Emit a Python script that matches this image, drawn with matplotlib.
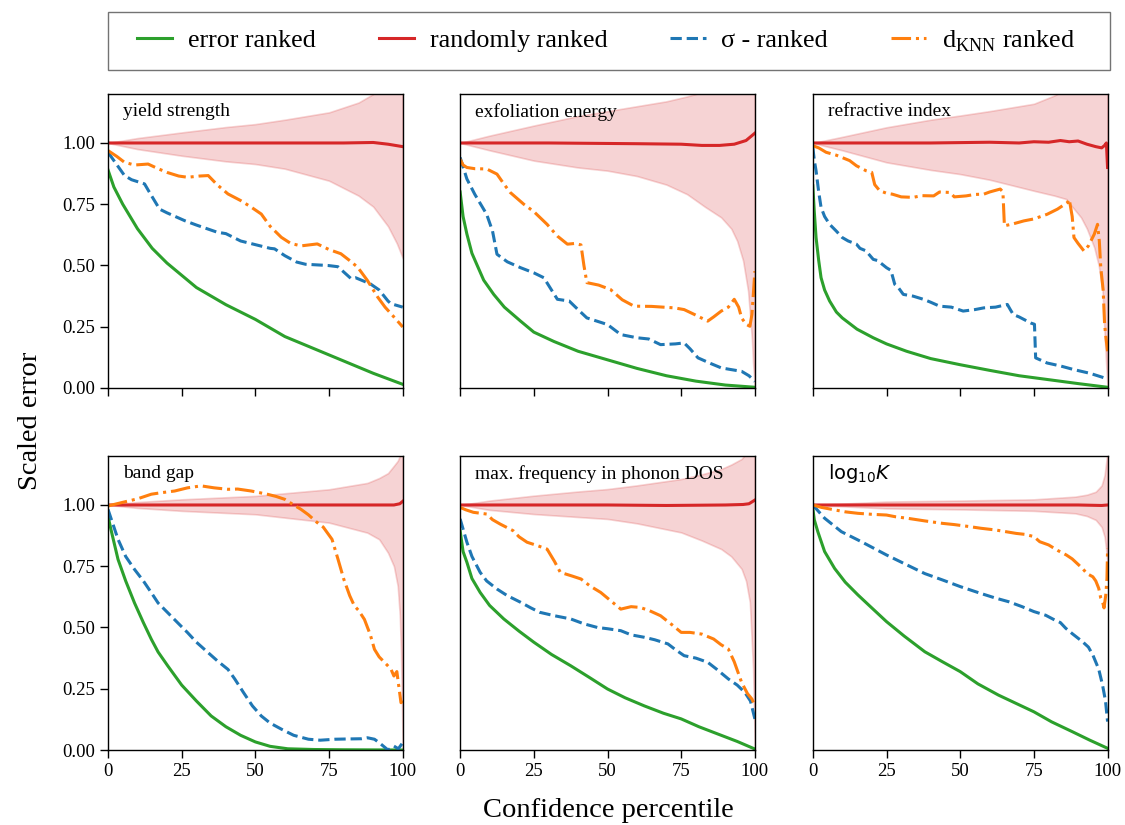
import numpy as np
import matplotlib
matplotlib.use("Agg")
import matplotlib.pyplot as plt
from matplotlib.lines import Line2D
from matplotlib.patches import Rectangle

plt.rcParams['font.family'] = ['Liberation Serif', 'DejaVu Sans']
plt.rcParams['mathtext.fontset'] = 'dejavusans'

# ---- yield strength ----
ys_err_x = [0, 2, 5, 10, 15, 20, 25, 30, 40, 50, 60, 70, 75, 80, 90, 100]
ys_err_y = [0.89, 0.82, 0.75, 0.65, 0.57, 0.51, 0.46, 0.41, 0.34, 0.28, 0.21, 0.16, 0.135, 0.11, 0.06, 0.015]
ys_rand_x = [0, 20, 40, 60, 80, 90, 95, 100]
ys_rand_y = [1.0, 1.0, 1.0, 1.0, 1.0, 1.002, 0.995, 0.985]
ys_band_x = [0, 10, 25, 40, 50, 60, 75, 85, 90, 95, 98, 100]
ys_band_hi = [1.0, 1.02, 1.043, 1.065, 1.077, 1.095, 1.125, 1.165, 1.2, 1.26, 1.32, 1.4]
ys_band_lo = [1.0, 0.975, 0.948, 0.925, 0.914, 0.895, 0.846, 0.785, 0.74, 0.66, 0.59, 0.53]
ys_sig_x = [0, 5.6, 8, 12.4, 14, 17.5, 20, 26, 30, 37, 40, 45, 50, 55, 56.5, 60, 64, 67, 74.6, 78, 82.5, 84, 89, 92, 95, 96, 100]
ys_sig_y = [0.962, 0.867, 0.85, 0.833, 0.80, 0.73, 0.715, 0.683, 0.665, 0.636, 0.63, 0.60, 0.585, 0.57, 0.568, 0.54, 0.514, 0.505, 0.50, 0.495, 0.446, 0.45, 0.425, 0.40, 0.355, 0.344, 0.33]
ys_knn_x = [0, 3, 5.6, 9, 13.6, 17, 20, 24, 27, 31, 34, 37, 40.7, 45, 48.6, 52, 55, 58.8, 62, 65.5, 71, 75, 79, 82, 84.7, 88, 91.5, 94, 97, 100]
ys_knn_y = [0.969, 0.945, 0.921, 0.91, 0.914, 0.895, 0.88, 0.865, 0.86, 0.865, 0.867, 0.83, 0.792, 0.765, 0.738, 0.71, 0.66, 0.615, 0.59, 0.58, 0.588, 0.565, 0.548, 0.52, 0.493, 0.439, 0.371, 0.33, 0.29, 0.249]

# ---- exfoliation energy ----
ex_err_x = [0, 1, 2.3, 4, 5.7, 8, 11.4, 15, 20.5, 25, 31.8, 40, 50, 60, 70, 80, 90, 100]
ex_err_y = [0.80, 0.70, 0.628, 0.55, 0.503, 0.44, 0.382, 0.33, 0.273, 0.228, 0.19, 0.15, 0.115, 0.08, 0.05, 0.028, 0.012, 0.003]
ex_rand_x = [0, 30, 60, 75, 82, 88, 93, 97, 100]
ex_rand_y = [1.0, 1.0, 0.997, 0.995, 0.99, 0.99, 0.995, 1.01, 1.04]
ex_band_x = [0, 10, 25, 40, 50, 60, 70, 77, 83, 88.6, 92, 94, 96, 97.7, 99, 99.4, 100]
ex_band_hi = [1.0, 1.03, 1.071, 1.11, 1.13, 1.15, 1.17, 1.19, 1.21, 1.25, 1.3, 1.33, 1.38, 1.45, 1.6, 1.7, 2.0]
ex_band_lo = [1.0, 0.97, 0.928, 0.90, 0.887, 0.865, 0.83, 0.791, 0.74, 0.696, 0.65, 0.60, 0.52, 0.396, 0.2, 0.1, 0.0]
ex_sig_x = [0, 2.3, 5, 9, 11, 12.5, 16, 20.5, 25, 28.4, 31, 33, 37, 40, 43, 50, 54.5, 60, 64, 68, 73, 76, 78, 80.7, 85, 88.6, 92, 95.5, 98, 100]
ex_sig_y = [0.941, 0.853, 0.79, 0.709, 0.64, 0.546, 0.515, 0.491, 0.47, 0.45, 0.40, 0.362, 0.355, 0.32, 0.286, 0.259, 0.218, 0.205, 0.20, 0.177, 0.18, 0.184, 0.16, 0.123, 0.10, 0.082, 0.075, 0.068, 0.05, 0.027]
ex_knn_x = [0, 1, 2.3, 5, 9, 12.5, 15, 17, 21.6, 25, 29.5, 33, 36.4, 39, 41, 42, 43, 47, 51, 55, 59, 65, 72.7, 76, 79.5, 84, 86, 88.6, 91, 93, 94.5, 95.5, 97, 98.3, 99, 99.4, 100]
ex_knn_y = [0.934, 0.91, 0.90, 0.895, 0.894, 0.873, 0.83, 0.798, 0.75, 0.72, 0.668, 0.62, 0.587, 0.59, 0.584, 0.5, 0.43, 0.42, 0.402, 0.36, 0.334, 0.333, 0.327, 0.32, 0.30, 0.273, 0.29, 0.314, 0.33, 0.362, 0.33, 0.286, 0.26, 0.252, 0.3, 0.368, 0.477]

# ---- refractive index ----
ri_err_x = [0, 0.5, 1.1, 2, 2.8, 4, 5.7, 8, 10, 15, 20.5, 25, 31.8, 40, 50, 60, 70, 80, 90, 100]
ri_err_y = [0.825, 0.72, 0.614, 0.52, 0.45, 0.40, 0.355, 0.31, 0.286, 0.24, 0.205, 0.18, 0.15, 0.12, 0.095, 0.072, 0.05, 0.034, 0.018, 0.003]
ri_rand_x = [0, 20, 40, 60, 70, 75, 80, 84, 87, 90, 93, 96, 98, 99, 99.6, 100]
ri_rand_y = [1.0, 1.0, 1.0, 1.003, 1.0, 1.005, 1.003, 1.01, 1.005, 1.008, 0.995, 0.985, 0.98, 0.99, 1.0, 0.9]
ri_band_x = [0, 10, 25, 40, 50, 60, 75, 82, 86, 88, 91, 93, 95.5, 97, 98.3, 99.4, 100]
ri_band_hi = [1.0, 1.025, 1.064, 1.095, 1.112, 1.13, 1.16, 1.194, 1.22, 1.24, 1.28, 1.32, 1.4, 1.5, 1.6, 1.8, 2.0]
ri_band_lo = [1.0, 0.97, 0.921, 0.89, 0.873, 0.85, 0.805, 0.785, 0.771, 0.74, 0.696, 0.65, 0.573, 0.5, 0.396, 0.123, 0.0]
ri_sig_x = [0, 0.5, 1.1, 2, 2.8, 4, 5.7, 8, 10, 12, 14.8, 16, 18, 20.5, 22, 25, 26.5, 27.8, 29, 30.7, 34, 37.5, 40, 43, 47, 51, 55, 58, 62, 66, 67, 68, 70, 72.7, 74, 75.2, 75.6, 79.5, 84, 88.6, 94, 99]
ri_sig_y = [0.982, 0.93, 0.887, 0.80, 0.737, 0.70, 0.668, 0.64, 0.614, 0.60, 0.587, 0.57, 0.56, 0.525, 0.52, 0.491, 0.48, 0.423, 0.41, 0.382, 0.375, 0.362, 0.35, 0.334, 0.33, 0.314, 0.32, 0.327, 0.33, 0.341, 0.32, 0.30, 0.29, 0.273, 0.265, 0.26, 0.123, 0.102, 0.09, 0.075, 0.06, 0.041]
ri_knn_x = [0, 2, 4.5, 8, 12.5, 14.8, 18, 20, 21, 22.7, 25, 27, 30, 34, 37, 41, 43, 46.6, 48, 52, 55, 58, 60, 63.6, 64.5, 65, 68, 71.6, 75, 79.5, 83, 86.4, 87, 88, 88.6, 90, 92, 93.5, 95.5, 96.6, 97.2, 97.7, 98.5, 99, 99.5, 100]
ri_knn_y = [0.989, 0.98, 0.962, 0.95, 0.928, 0.907, 0.887, 0.88, 0.83, 0.805, 0.795, 0.791, 0.78, 0.778, 0.785, 0.784, 0.80, 0.798, 0.78, 0.784, 0.79, 0.791, 0.80, 0.812, 0.80, 0.662, 0.67, 0.682, 0.69, 0.709, 0.73, 0.757, 0.77, 0.70, 0.614, 0.59, 0.559, 0.58, 0.628, 0.668, 0.60, 0.491, 0.40, 0.259, 0.2, 0.15]

# ---- band gap ----
bg_err_x = [0, 1, 3.4, 6, 9, 12, 14.7, 17, 20.3, 25, 30, 35, 40, 45, 50, 55, 61, 70, 80, 100]
bg_err_y = [0.955, 0.90, 0.778, 0.69, 0.60, 0.52, 0.452, 0.40, 0.343, 0.265, 0.20, 0.139, 0.095, 0.06, 0.033, 0.015, 0.005, 0.002, 0.001, 0.0]
bg_rand_x = [0, 50, 90, 97, 99, 100]
bg_rand_y = [1.0, 1.0, 1.0, 1.0, 1.005, 1.015]
bg_band_x = [0, 10, 25, 50, 75, 88, 92, 95, 97, 98.3, 99, 99.4, 100]
bg_band_hi = [1.0, 1.012, 1.023, 1.037, 1.064, 1.09, 1.11, 1.13, 1.16, 1.18, 1.2, 1.25, 1.4]
bg_band_lo = [1.0, 0.988, 0.976, 0.962, 0.928, 0.887, 0.86, 0.805, 0.75, 0.669, 0.55, 0.40, 0.0]
bg_sig_x = [0, 3.4, 6, 9, 12, 14.7, 17, 20.3, 24, 27, 30, 34, 37, 40.7, 43, 46, 49, 52, 55, 59, 63, 68, 72, 77, 81, 86, 88, 90.4, 92, 94, 95, 97, 98.5, 100]
bg_sig_y = [0.982, 0.86, 0.79, 0.737, 0.69, 0.642, 0.60, 0.56, 0.515, 0.479, 0.44, 0.397, 0.365, 0.329, 0.29, 0.234, 0.18, 0.139, 0.11, 0.084, 0.06, 0.044, 0.04, 0.044, 0.045, 0.046, 0.05, 0.044, 0.03, 0.01, 0.0, 0.016, 0.005, 0.03]
bg_knn_x = [0, 3, 6.8, 10, 14.7, 18, 22.6, 27, 31.6, 36, 40.7, 44, 48.6, 54, 57, 60, 63, 65.5, 68, 71, 73, 76, 78, 80, 82, 83.6, 85, 87, 89, 90.4, 92, 95, 96, 97, 98, 99.4, 100]
bg_knn_y = [0.996, 1.005, 1.016, 1.025, 1.044, 1.05, 1.057, 1.07, 1.078, 1.07, 1.064, 1.065, 1.057, 1.044, 1.035, 1.023, 1.0, 0.982, 0.96, 0.928, 0.91, 0.86, 0.78, 0.697, 0.63, 0.588, 0.57, 0.533, 0.47, 0.411, 0.38, 0.343, 0.33, 0.302, 0.32, 0.193, 0.2]

# ---- max. frequency in phonon DOS ----
ph_err_x = [0, 1, 2.3, 4, 6.8, 10, 14.8, 20, 25, 31, 37.5, 44, 50, 56, 62.5, 69, 75, 81, 87.5, 94, 100]
ph_err_y = [0.895, 0.81, 0.766, 0.70, 0.643, 0.59, 0.535, 0.485, 0.44, 0.39, 0.344, 0.295, 0.249, 0.213, 0.18, 0.15, 0.127, 0.095, 0.065, 0.035, 0.004]
ph_rand_x = [0, 50, 70, 90, 96, 98, 100]
ph_rand_y = [1.0, 1.0, 0.998, 1.0, 1.002, 1.005, 1.02]
ph_band_x = [0, 10, 25, 40, 50, 60, 75, 82, 88.6, 92, 95.5, 97, 98.3, 99.4, 100]
ph_band_hi = [1.0, 1.018, 1.038, 1.055, 1.065, 1.08, 1.106, 1.125, 1.147, 1.165, 1.188, 1.21, 1.25, 1.35, 1.5]
ph_band_lo = [1.0, 0.98, 0.963, 0.951, 0.943, 0.925, 0.888, 0.855, 0.82, 0.79, 0.739, 0.69, 0.603, 0.33, 0.0]
ph_sig_x = [0, 2.3, 4, 6.8, 9, 12.5, 16, 20.5, 24, 27, 32, 37.5, 42, 46.6, 50, 54.5, 58, 62.5, 66, 70.5, 73, 76, 80, 84, 87, 91, 94, 96.6, 98.5, 100]
ph_sig_y = [0.943, 0.848, 0.79, 0.725, 0.69, 0.657, 0.63, 0.603, 0.58, 0.562, 0.548, 0.535, 0.515, 0.50, 0.495, 0.487, 0.47, 0.46, 0.45, 0.433, 0.41, 0.385, 0.375, 0.358, 0.33, 0.29, 0.265, 0.235, 0.2, 0.127]
ph_knn_x = [0, 2, 4.5, 9, 11, 13.6, 18, 20, 22.7, 26, 29.5, 32, 34, 38, 41, 44, 47.7, 51, 54.5, 58, 61, 64, 68, 72, 75, 78, 82, 86, 88.5, 91, 93, 95.5, 97.5, 99, 100]
ph_knn_y = [0.99, 0.98, 0.97, 0.963, 0.94, 0.922, 0.895, 0.87, 0.848, 0.835, 0.82, 0.77, 0.725, 0.71, 0.698, 0.67, 0.643, 0.61, 0.575, 0.585, 0.582, 0.57, 0.548, 0.51, 0.48, 0.48, 0.473, 0.453, 0.43, 0.412, 0.36, 0.276, 0.23, 0.208, 0.18]

# ---- log10 K ----
lk_err_x = [0, 0.5, 1.7, 4, 7.4, 11, 15.3, 20, 25, 31, 38, 44, 50, 56, 63, 69, 75, 81, 88, 94, 100]
lk_err_y = [0.986, 0.94, 0.891, 0.81, 0.741, 0.685, 0.633, 0.58, 0.524, 0.465, 0.401, 0.36, 0.32, 0.27, 0.224, 0.19, 0.156, 0.115, 0.075, 0.04, 0.007]
lk_rand_x = [0, 50, 90, 98, 100]
lk_rand_y = [1.0, 1.0, 1.0, 0.998, 1.0]
lk_band_x = [0, 25, 50, 75, 89, 93, 96, 98, 99, 99.5, 100]
lk_band_hi = [1.0, 1.014, 1.018, 1.023, 1.034, 1.042, 1.054, 1.08, 1.122, 1.17, 1.22]
lk_band_lo = [1.0, 0.986, 0.982, 0.976, 0.966, 0.955, 0.939, 0.91, 0.87, 0.82, 0.75]
lk_sig_x = [0, 4, 9.7, 16.5, 25, 32, 38, 44, 50, 57, 62, 66.5, 71, 75, 79, 82, 84, 85.8, 88, 91.5, 93.5, 95, 97, 98.3, 99.3, 100]
lk_sig_y = [1.0, 0.946, 0.891, 0.85, 0.796, 0.755, 0.72, 0.694, 0.667, 0.639, 0.62, 0.605, 0.585, 0.565, 0.55, 0.531, 0.52, 0.497, 0.475, 0.442, 0.42, 0.388, 0.33, 0.265, 0.2, 0.116]
lk_knn_x = [0, 3, 7.4, 11, 15.3, 20, 25, 28, 32, 38, 44, 48, 53, 57, 62, 66, 69, 72, 75, 77, 80, 83, 86, 88, 91.5, 93, 95, 96, 97, 97.7, 98.3, 98.8, 99.4, 99.8, 100]
lk_knn_y = [1.0, 0.99, 0.98, 0.972, 0.966, 0.962, 0.959, 0.952, 0.946, 0.935, 0.925, 0.92, 0.912, 0.905, 0.898, 0.89, 0.884, 0.88, 0.871, 0.85, 0.837, 0.815, 0.796, 0.78, 0.741, 0.72, 0.707, 0.69, 0.66, 0.62, 0.605, 0.58, 0.633, 0.7, 0.823]

titles = ['yield strength', 'exfoliation energy', 'refractive index',
          'band gap', 'max. frequency in phonon DOS', r'$\mathrm{log}_{10}K$']
panels = [
    (ys_err_x, ys_err_y, ys_rand_x, ys_rand_y, ys_band_x, ys_band_hi, ys_band_lo, ys_sig_x, ys_sig_y, ys_knn_x, ys_knn_y),
    (ex_err_x, ex_err_y, ex_rand_x, ex_rand_y, ex_band_x, ex_band_hi, ex_band_lo, ex_sig_x, ex_sig_y, ex_knn_x, ex_knn_y),
    (ri_err_x, ri_err_y, ri_rand_x, ri_rand_y, ri_band_x, ri_band_hi, ri_band_lo, ri_sig_x, ri_sig_y, ri_knn_x, ri_knn_y),
    (bg_err_x, bg_err_y, bg_rand_x, bg_rand_y, bg_band_x, bg_band_hi, bg_band_lo, bg_sig_x, bg_sig_y, bg_knn_x, bg_knn_y),
    (ph_err_x, ph_err_y, ph_rand_x, ph_rand_y, ph_band_x, ph_band_hi, ph_band_lo, ph_sig_x, ph_sig_y, ph_knn_x, ph_knn_y),
    (lk_err_x, lk_err_y, lk_rand_x, lk_rand_y, lk_band_x, lk_band_hi, lk_band_lo, lk_sig_x, lk_sig_y, lk_knn_x, lk_knn_y),
]
yticks = [0.0, 0.25, 0.5, 0.75, 1.0]
xticks = [0, 25, 50, 75, 100]

fig = plt.figure(figsize=(11.25, 8.25), dpi=100)
lefts = [0.096, 0.409, 0.7225]
bottoms = [0.5297, 0.0909]
w, h = 0.262, 0.3564
lw = 2.2

for i, (title, p) in enumerate(zip(titles, panels)):
    r, c = divmod(i, 3)
    ax = fig.add_axes([lefts[c], bottoms[r], w, h])
    ex, ey, rx, ry, bx, bhi, blo, sx, sy, kx, ky = p
    ax.fill_between(bx, blo, bhi, color='C3', alpha=0.2, lw=1.2)
    ax.plot(rx, ry, color='C3', lw=lw)
    ax.plot(ex, ey, color='C2', lw=lw)
    ax.plot(sx, sy, color='C0', lw=lw, ls='--')
    ax.plot(kx, ky, color='C1', lw=lw, ls='-.')
    ax.set_xlim(0, 100)
    ax.set_ylim(0, 1.2)
    ax.set_xticks(xticks)
    ax.set_yticks(yticks)
    ax.set_yticklabels([f'{t:.2f}' for t in yticks])
    ax.tick_params(labelsize=13.5, length=5.5, width=1.0)
    for s in ax.spines.values():
        s.set_linewidth(1.0)
    if c > 0:
        ax.tick_params(left=False, labelleft=False)
    if r == 0:
        ax.tick_params(labelbottom=False)
    ax.text(0.05, 0.94, title, transform=ax.transAxes, fontsize=14, va='center', ha='left')

handles = [Line2D([], [], color='C2', lw=lw),
           Line2D([], [], color='C3', lw=lw),
           Line2D([], [], color='C0', lw=lw, ls='--'),
           Line2D([], [], color='C1', lw=lw, ls='-.')]
labels = ['error ranked', 'randomly ranked', 'σ - ranked', r'd$_{\mathregular{KNN}}$ ranked']
# legend entries spread over the inner part of the box, box drawn separately
fig.legend(handles, labels, loc='center', bbox_to_anchor=(0.1218, 0.9503, 0.8338, 0),
           mode='expand', ncol=4, frameon=False, fontsize=18.8,
           borderaxespad=0, borderpad=0, handlelength=1.35, handletextpad=0.6)
fig.patches.append(Rectangle((0.096, 0.9152), 0.8907, 0.0703, transform=fig.transFigure,
                             fill=False, edgecolor='0.45', lw=1.0))

fig.text(0.541, 0.018, 'Confidence percentile', fontsize=20.5, ha='center', va='center')
fig.text(0.027, 0.49, 'Scaled error', fontsize=20.5, ha='center', va='center', rotation=90)

fig.savefig('out.png', dpi=100)
